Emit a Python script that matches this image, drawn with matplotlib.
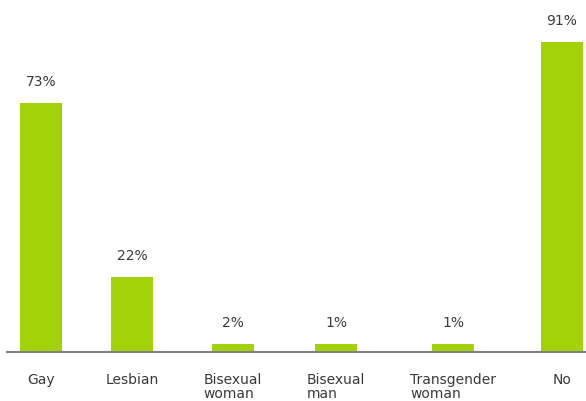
import matplotlib
matplotlib.use("Agg")
import matplotlib.pyplot as plt
import numpy as np

# data
categories = ["Gay", "Lesbian", "Bisexual\nwoman", "Bisexual\nman", "Transgender\nwoman", "No"]
values = [73, 22, 2, 1, 1, 91]
value_labels = ["73%", "22%", "2%", "1%", "1%", "91%"]

# layout (bar centres in pixel units of the figure width)
centres = [41, 132, 233, 336, 453, 562]
bar_width = 42
min_visible = 2.4  # tiny values are drawn with a minimum height, as in the original

GREEN = "#a3d20a"
TEXT = "#3a3a3a"

plt.rcParams["font.family"] = ["DejaVu Sans"]

fig = plt.figure(figsize=(5.86, 4.02), dpi=100)
ax = fig.add_axes([0, 0, 1, 1])

heights = np.maximum(values, min_visible)
ax.bar(centres, heights, width=bar_width, color=GREEN, zorder=2)

ax.plot([6, 586], [0, 0], color="#808080", lw=1.5, zorder=3, solid_capstyle="butt")

for x, h, lab in zip(centres, heights, value_labels):
    ax.annotate(lab, (x, h), xytext=(0, 15), textcoords="offset pixels",
                ha="center", va="bottom", fontsize=10, color=TEXT)

for x, cat in zip(centres, categories):
    ax.annotate(cat, (x, 0), xytext=(0, -20), textcoords="offset pixels",
                ha="center", va="top", ma="left", fontsize=10, color=TEXT,
                linespacing=1.0)

ax.set_xlim(0, 586)
px = 3.41  # pixels per percent
ax.set_ylim(-49 / px, 353 / px)
ax.axis("off")

fig.savefig("out.png", dpi=100)
plt.close(fig)
